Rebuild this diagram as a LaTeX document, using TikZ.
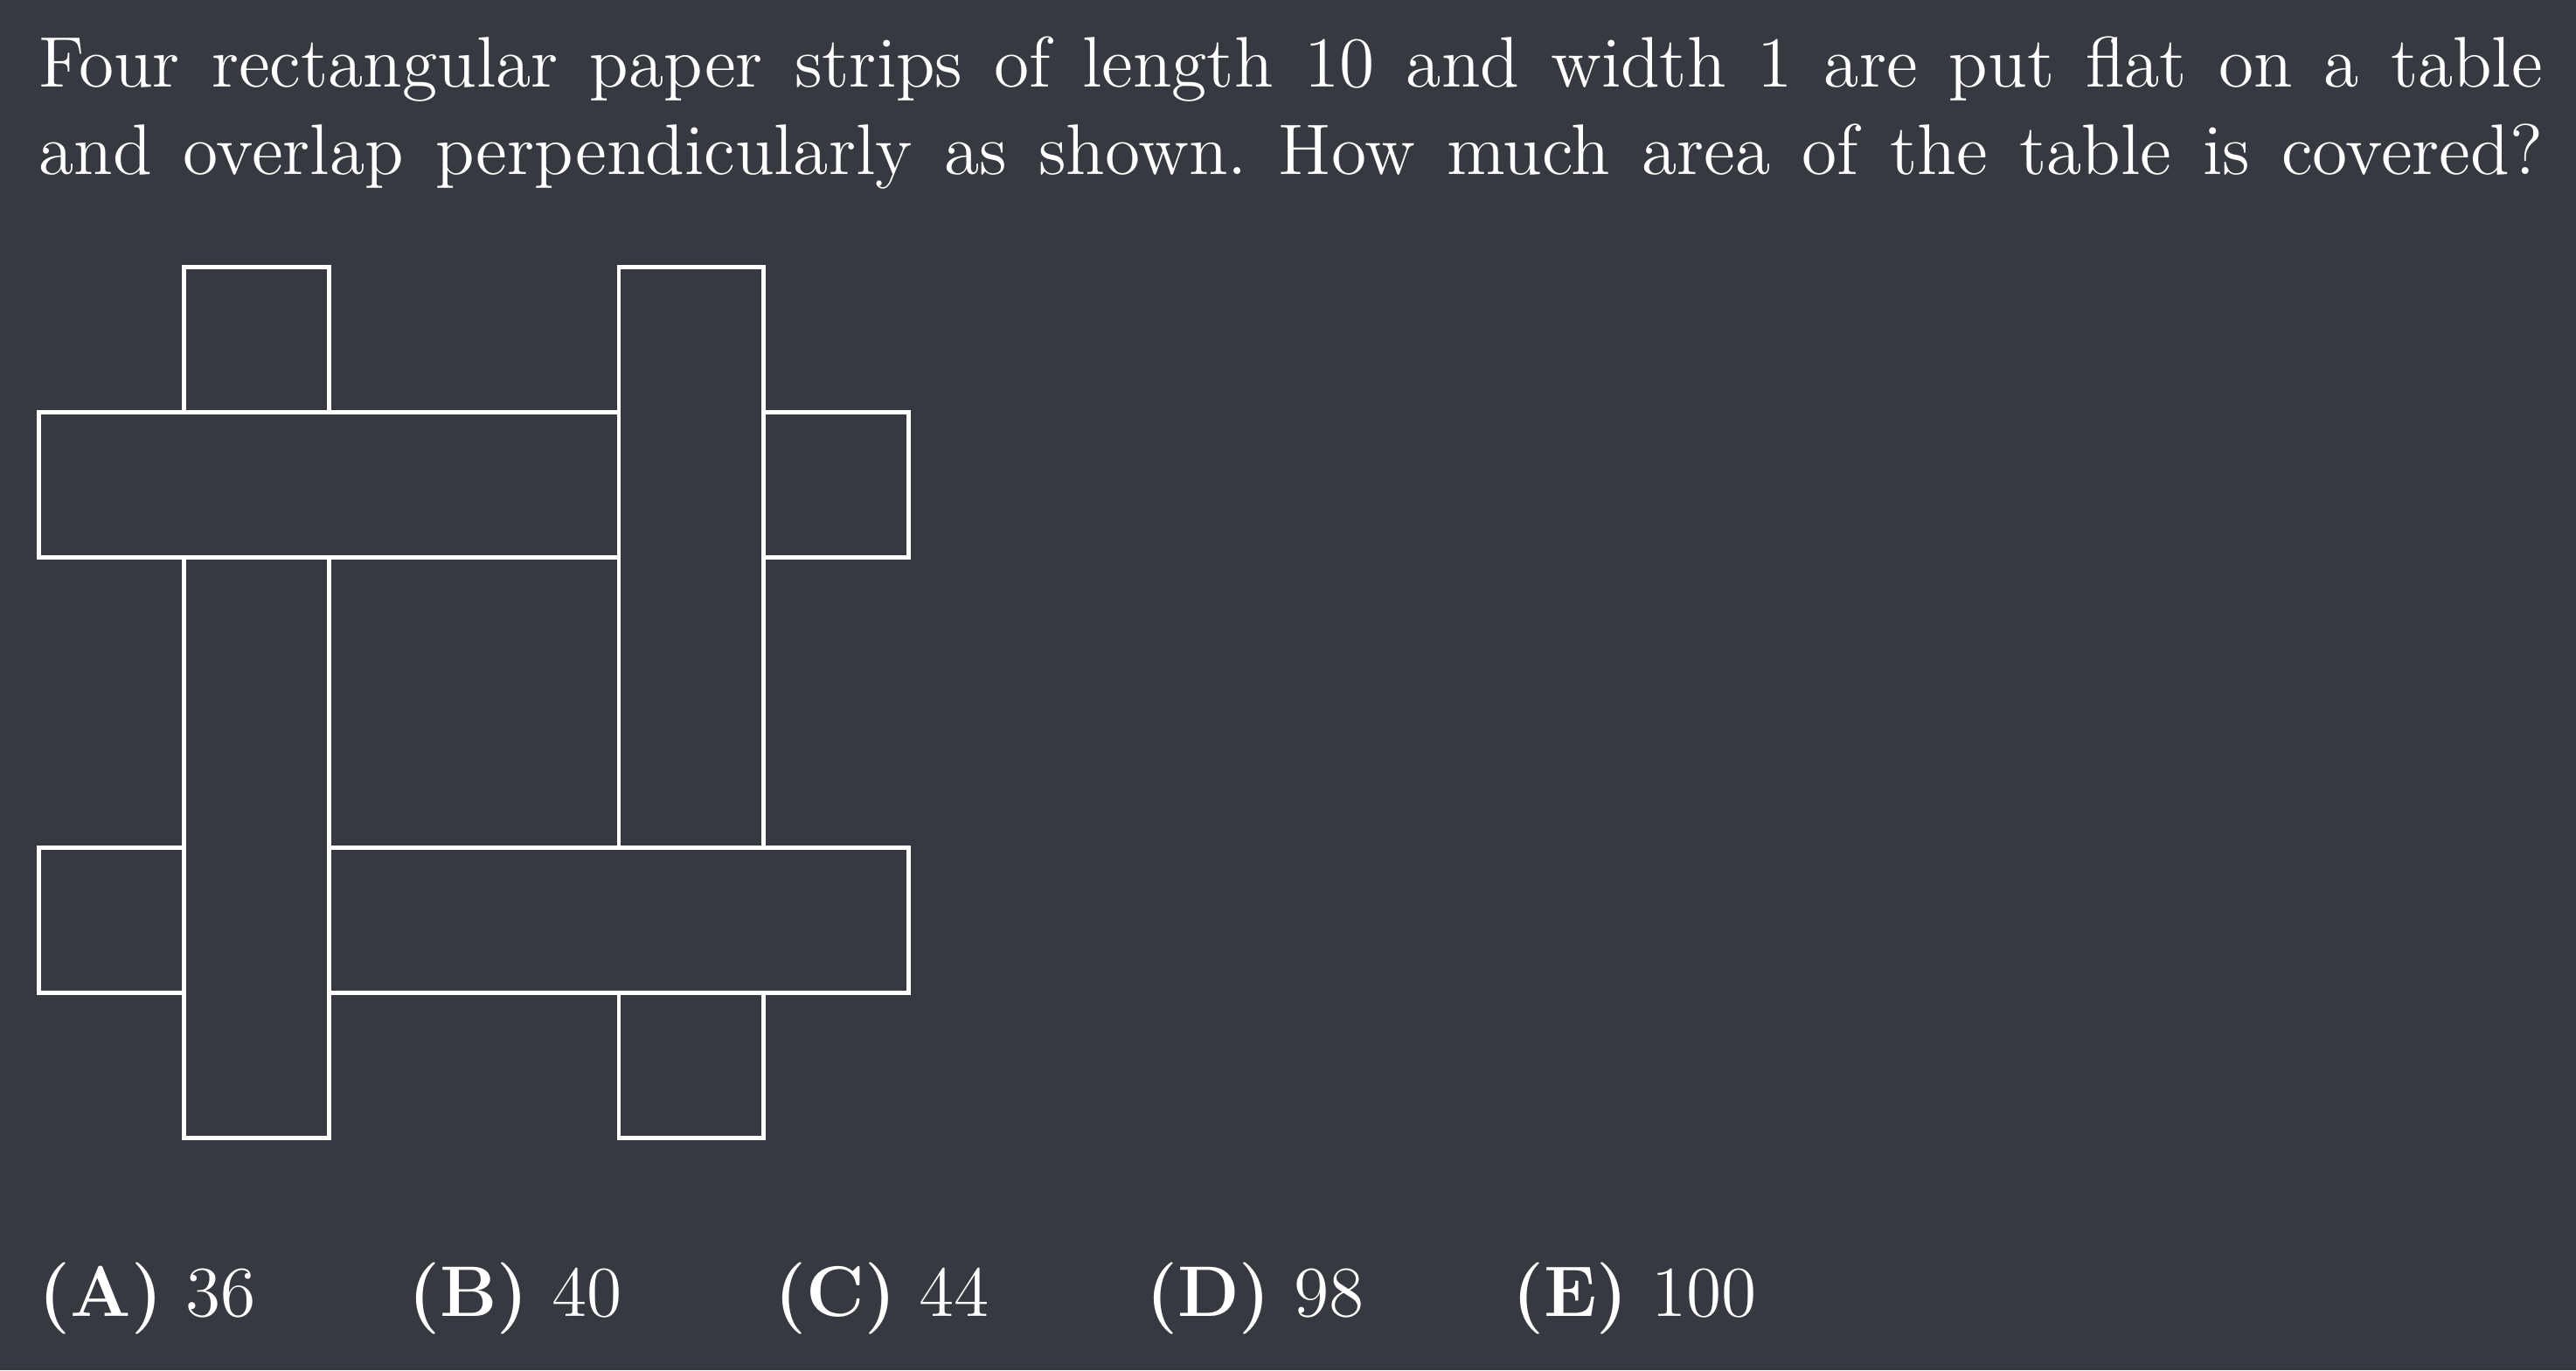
\documentclass[tikz,border=0pt]{standalone}
\usepackage{tikz}
\definecolor{boardbg}{RGB}{54,57,63}
\tikzset{strip/.style={draw=white, line width=0.75pt},
  txt/.style={text=white, inner sep=0pt, anchor=base west, font=\fontsize{12.4}{15.1}\selectfont}}
\frenchspacing

\begin{document}
\begin{tikzpicture}
    \fill[boardbg] (0, 0) rectangle (15.68, 8.34);
    \node[txt] (line1) at (0.23, 7.81) {\makebox[15.24cm][s]{Four rectangular paper strips of length 10 and width 1 are put flat on a table}};
    \node[txt] (line2) at (0.23, 7.28) {\makebox[15.24cm][s]{and overlap perpendicularly as shown. How much area of the table is covered?}};
    \begin{scope}[shift={(0.235, 1.415)}, x=0.883cm, y=0.883cm]
      % top strip and its right end
      \draw[strip] (0, 4) rectangle (4, 5);
      \draw[strip] (5, 4) rectangle (6, 5);
      % left strip, cut by the top strip
      \draw[strip] (1, 5) rectangle (2, 6);
      \draw[strip] (1, 0) rectangle (2, 4);
      % right strip, cut by the bottom strip
      \draw[strip] (4, 2) rectangle (5, 6);
      \draw[strip] (4, 0) rectangle (5, 1);
      % bottom strip, cut by the left strip
      \draw[strip] (0, 1) rectangle (1, 2);
      \draw[strip] (2, 1) rectangle (6, 2);
    \end{scope}
    \node[txt] (ansA) at (0.23, 0.33) {\textbf{(A)} 36};
    \node[txt] (ansB) at (2.48, 0.33) {\textbf{(B)} 40};
    \node[txt] (ansC) at (4.71, 0.33) {\textbf{(C)} 44};
    \node[txt] (ansD) at (6.97, 0.33) {\textbf{(D)} 98};
    \node[txt] (ansE) at (9.20, 0.33) {\textbf{(E)} 100};
  \end{tikzpicture}
\end{document}
